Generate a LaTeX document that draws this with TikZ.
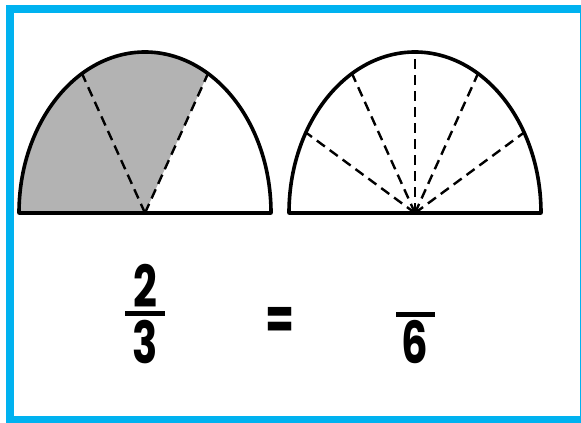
\documentclass[tikz,border=0pt]{standalone}
\usepackage{fontspec}
\newfontfamily\digitfont{Poppins}[UprightFont=* Bold]
\usepackage{tikz}

\definecolor{frameblue}{RGB}{0,178,240}
\definecolor{shadegray}{RGB}{179,179,179}

\begin{document}
\begin{tikzpicture}[x=1pt,y=1pt,
    outline/.style={line width=3.6pt,line join=round},
    divline/.style={line width=2.4pt,dash pattern=on 10pt off 6pt},
    digit/.style={font=\digitfont\fontsize{58}{58}\selectfont,xscale=0.72,inner sep=0pt},
    fracbar/.style={line width=5pt}]
  \useasboundingbox (0,0) rectangle (581,423);
  \clip (0,0) rectangle (581,423);
  % frame
  \draw[frameblue,line width=8pt] (10,3) rectangle (584,414);
  % left half, 2 of 3 parts shaded
  \coordinate (lc) at (145,210);
  \fill[shadegray] (lc) -- (19,210) arc[start angle=180,end angle=60,x radius=126,y radius=161] -- cycle;
  \draw[divline] (lc) -- ([shift={(60:126 and 161)}]lc);
  \draw[divline] (lc) -- ([shift={(120:126 and 161)}]lc);
  \draw[outline] (19,210) arc[start angle=180,end angle=0,x radius=126,y radius=161] -- cycle;
  % right half, 6 parts
  \coordinate (rc) at (415,210);
  \foreach \t in {30,60,...,150}
    \draw[divline] (rc) -- ([shift={(\t:126 and 161)}]rc);
  \draw[outline] (289,210) arc[start angle=180,end angle=0,x radius=126,y radius=161] -- cycle;
  % fractions
  \node[digit] (num) at (145,137) {2};
  \node[digit] (den) at (145.5,81) {3};
  \draw[fracbar] (125,109.5) -- (165,109.5);
  \node[digit] (eq) at (280,99.5) {=};
  \draw[fracbar] (396,108.5) -- (435,108.5);
  \node[digit] (sixth) at (415,81) {6};
\end{tikzpicture}
\end{document}
